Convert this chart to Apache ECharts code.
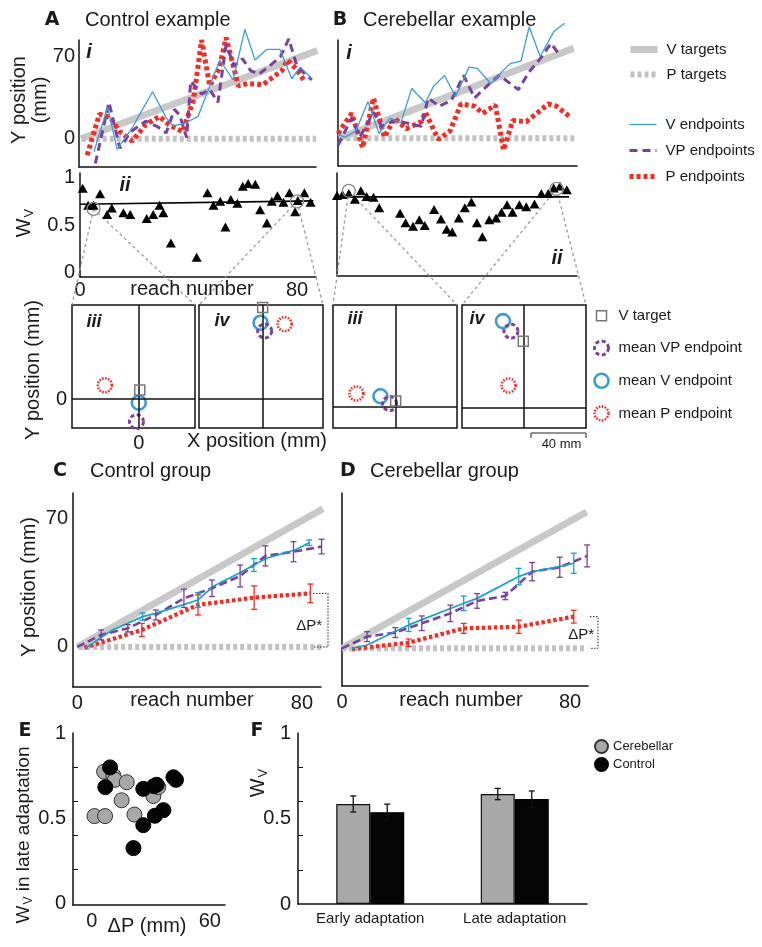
<!DOCTYPE html>
<html><head><meta charset="utf-8">
<script src="https://cdn.jsdelivr.net/npm/echarts@6/dist/echarts.min.js"></script>
<style>html,body{margin:0;padding:0;background:#fff}#c{width:762px;height:947px}</style>
</head><body><div id="c"></div>
<script>
// ---------------- DATA ----------------
// Panel A i (control example): reach number vs Y position (mm)
const aTgtReach = [0.7, 87.5], aTgtVal = [0, 75];
const aPTReach = [1, 87], aPTVal = [0, 0];
const aVReach = [5.5,10.5,14,19.7,27,32,34.4,38.7,43.7,51.7,56.6,60.9,64.6,68.9,73.8,78.1,81.2,85.5];
const aVVal   = [-11,27,-9,10,40,18,11,13,19,67,50,93,67,76,76,51,61,51];
const aVPReach = [6,11,15,19,24.5,29,32,35,37,39.5,41,45,48,51,54,57,60,63,66,70,74,77,80,83,85.5];
const aVPVal   = [-21,31,-8,6,15,10,5,25,20,1,49,38,42,31,80,62,68,58,55,62,70,85,62,55,50];
const aPReach = [3,7.5,11.5,15,19.5,24.5,29.5,33,38,42,45,48,51.5,54,58.5,62,67.5,71,74.5,76.5,79.5,82.5];
const aPVal   = [-14,21,18,6,-2,12,19,12,6,33,84,45,60,86,45,47,46,52,58,67,60,50];
// Panel B i (cerebellar example)
const bTgtReach = [0.4, 86.3], bTgtVal = [0, 76];
const bPTReach = [0.5, 87], bPTVal = [0, 0];
const bVReach = [0,2.5,6.5,11,15,19,23,27,32,35,39,43,48,51,56,60,63,67,70,74,79,83];
const bVVal   = [3,1,6,31,4,17,13,42,30,44,53,35,60,59,46,56,63,65,94,69,90,97];
const bVPReach = [0,5,8,13,16,21,25,30.5,33,37,41.5,46,50,55,59,62,66,70,74,78,81.5];
const bVPVal   = [-6,17,1,22,10,15,13,10,34,27,32,53,34,45,53,48,41,56,67,80,69];
const bPReach = [0,5,9,13,17,20.7,25,30.5,32,36.7,41,45,50,53,57.6,60.6,64,69,77,80,85];
const bPVal   = [4,21,-8,34,1,17,8,14,22,-1,6,29,27,21,28,-10,15,14,29,27,18];
// Panel A ii / B ii : W_V per reach
const aWReach = [1,3,5,7.4,10,11.7,16,18.5,24.6,27,29.3,30.7,33.5,43,47,49.2,51.7,53.6,55.6,58,60,62,64.6,66.4,68.9,70.7,72.8,75,77.2,79.3,80.3,82.7,85];
const aWVal   = [0.89,0.71,0.71,0.83,0.61,0.68,0.63,0.61,0.57,0.61,0.71,0.63,0.31,0.16,0.84,0.71,0.75,0.48,0.77,0.73,0.91,0.94,0.93,0.66,0.52,0.75,0.81,0.74,0.84,0.64,0.76,0.84,0.74];
const aFitReach = [0, 86], aFitVal = [0.72, 0.755];
const aCircReach = [5, 80], aCircVal = [0.67, 0.75];
const bWReach = [0,2,4.3,6.5,8.7,10.8,13.3,15.4,23,25,27.7,30,32,35.4,37.9,40,42,44.4,46.6,49,51,53,55.5,58,60,62,64,66.5,69,72,74.5,77,79,81.3,83.8];
const bWVal   = [0.81,0.82,0.83,0.77,0.86,0.80,0.79,0.68,0.62,0.52,0.48,0.55,0.49,0.66,0.56,0.45,0.42,0.57,0.68,0.74,0.52,0.37,0.55,0.57,0.63,0.71,0.63,0.71,0.69,0.72,0.83,0.83,0.89,0.91,0.87];
const bFitReach = [-0.5, 84.6], bFitVal = [0.795, 0.795];
const bCircReach = [4.3, 80], bCircVal = [0.86, 0.88];
// Panels iii / iv (A iii, A iv, B iii, B iv): X / Y position (mm)
const mTargetX = [0.7, 0, 0, 0],      mTargetY = [6.5, 66, 4.6, 48.7];
const mVX      = [0, -1.5, -11.1, -14.8], mVY = [-2.7, 55, 8, 63.3];
const mVPX     = [-1.7, 1.5, -4.4, -9.0], mVPY = [-16.5, 49, 2.7, 56];
const mPX      = [-24.7, 16, -28.6, -10.7], mPY = [10, 54, 10, 16.5];
// Panel C (control group)
const cTgtReach = [0, 87.5], cTgtVal = [0, 75.6];
const cPTReach = [0.7, 88.2], cPTVal = [0, 0];
const cVPReach = [0,8.5,18,28,38,48,58,67,77,87];
const cVPVal   = [0,6.6,10.2,17.5,26.6,32.1,38.8,49.8,52.1,54.9];
const cVPErr   = [0,2.7,2,2.7,5,4.5,6,5.5,5.5,4];
const cVReach = [3,8,12.6,23.3,27.9,37.6,43,48.3,57.6,62.9,67.4,77.5,82.6];
const cVVal   = [-0.7,4.7,9.3,16.6,18.4,23,25.7,33,40.3,44.8,48.5,53,57];
const cVErr   = [0,0,0,2,0,0,4,0,0,3.5,0,0,1.5];
const cPReach = [2.5,23,43,63,83];
const cPVal   = [-0.5,9.3,23,27,29.3];
const cPErr   = [0,3.6,5.5,6.4,5.1];
// Panel D (cerebellar group)
const dTgtReach = [0, 85.8], dTgtVal = [0, 74.5];
const dPTReach = [0, 86], dPTVal = [0, 0];
const dVPReach = [0,8.8,18.7,28,38,47.4,57.3,66.7,76.4,86];
const dVPVal   = [0,6.4,8.6,13.7,19.1,25.9,28.6,41.9,44.3,50.5];
const dVPErr   = [0,2.7,2.7,4,4.5,4,2,5,5.5,6];
const dVReach = [3.5,8.8,23.4,42.7,47.4,62,66.7,76.4,81.3];
const dVVal   = [0,1.8,12.8,24.6,27.3,39.2,41.9,44.7,46.5];
const dVErr   = [0,0,3.6,4,0,4.5,0,0,5.5];
const dPReach = [3.5,23.4,42.7,62,81.3];
const dPVal   = [-0.4,3.1,10.9,11.8,17.3];
const dPErr   = [0,2,2.7,3.6,3.5];
// Panel E: ΔP (mm) vs W_V in late adaptation
const eCerDP = [6.3,11,11.8,17.8,15.2,1.4,6.8,21.7,31.3,33.8];
const eCerWv = [0.773,0.75,0.725,0.711,0.605,0.512,0.512,0.521,0.63,0.682];
const eConDP = [9.3,6.9,26.2,31.6,33,41.5,42.8,36.4,32.1,26.2,21.2];
const eConWv = [0.798,0.682,0.672,0.688,0.696,0.74,0.725,0.547,0.514,0.459,0.324];
// Panel F: mean W_V
const fCats = ['Early adaptation', 'Late adaptation'];
const fCer = [0.585, 0.643], fCerErr = [0.047, 0.033];
const fCon = [0.537, 0.614], fConErr = [0.047, 0.047];

// ---------------- STYLE / LAYOUT ----------------
const F = "'Liberation Sans', Arial, Helvetica, sans-serif";
const HEAVY = "'DejaVu Sans', 'Liberation Sans', sans-serif";
const TXT = '#1a1a1a';
const COL = { vt:'#c8c8c8', pt:'#c2c2c2', v:'#3d9bd8', vC:'#17a2ca', vp:'#7b3f9e', p:'#ee2f25', gray:'#a8a8a8' };
const G = [
  {left:79,  top:40,  width:237, height:127}, // 0 A i
  {left:338, top:40,  width:239, height:126}, // 1 B i
  {left:80,  top:173, width:236, height:104}, // 2 A ii
  {left:337, top:173, width:240, height:103}, // 3 B ii
  {left:72,  top:305, width:123, height:123}, // 4 A iii
  {left:199, top:305, width:124, height:123}, // 5 A iv
  {left:333, top:305, width:124, height:123}, // 6 B iii
  {left:462, top:305, width:124, height:123}, // 7 B iv
  {left:73,  top:493, width:248, height:194}, // 8 C
  {left:342, top:493, width:246, height:193}, // 9 D
  {left:73,  top:733, width:152, height:172}, // 10 E
  {left:298, top:733, width:289, height:171}  // 11 F
];
const boxX = [[-48.6,40.9],[-46.3,43.9],[-45.6,44.6],[-44.6,45.6]];
const boxY = [[-21.1,68.4],[-21.6,67.9],[-15.1,74.4],[-14.4,75]];

function pairs(xs, ys){ return xs.map((x,i)=>[x, ys[i]]); }
function triples(xs, ys, es){ return xs.map((x,i)=>[x, ys[i], es[i]]); }

function lab(values, margin, fs){
  return {show:true, customValues:values, fontSize:fs||20, color:TXT, fontFamily:F, margin:margin};
}
function vAxis(gi, min, max, pos, o){
  o = o || {};
  return {type:'value', gridIndex:gi, min:min, max:max, position:pos,
    axisLine:{show:o.line!==false, onZero:false, lineStyle:{color:'#111', width:1.5}},
    axisTick: o.ticks ? {show:true, inside:true, length:5, customValues:o.ticks, lineStyle:{color:'#111', width:1}} : {show:false},
    splitLine:{show:false},
    axisLabel: o.labels ? lab(o.labels, o.margin==null?4:o.margin, o.fs) : {show:false}};
}

const grids = G.map((g,i)=>Object.assign({outerBoundsMode:'none', containLabel:false}, g,
  (i>=4 && i<=7) ? {show:true, borderColor:'#111', borderWidth:1.5, backgroundColor:'rgba(0,0,0,0)'} : {show:false}));

const xAxes = [
  vAxis(0, 0, 87, 'bottom'),
  vAxis(1, 0, 87.5, 'bottom'),
  vAxis(2, 0, 87, 'bottom', {labels:[0,80], margin:3}),
  vAxis(3, 0, 87.5, 'bottom'),
  vAxis(4, boxX[0][0], boxX[0][1], 'bottom', {line:false, labels:[0], margin:5}),
  vAxis(5, boxX[1][0], boxX[1][1], 'bottom', {line:false}),
  vAxis(6, boxX[2][0], boxX[2][1], 'bottom', {line:false}),
  vAxis(7, boxX[3][0], boxX[3][1], 'bottom', {line:false}),
  vAxis(8, -1.5, 86.8, 'bottom', {labels:[0,80], margin:6}),
  vAxis(9, 0, 86.3, 'bottom', {labels:[0,80], margin:6}),
  vAxis(10, -9.5, 67.7, 'bottom', {labels:[0,60], margin:6}),
  {type:'category', gridIndex:11, data:fCats, position:'bottom',
   axisLine:{show:true, onZero:false, lineStyle:{color:'#111', width:1.5}}, axisTick:{show:false},
   axisLabel:{show:true, fontSize:15, color:TXT, fontFamily:F, margin:7}, splitLine:{show:false}}
];
const yAxes = [
  vAxis(0, -24, 84, 'left', {labels:[0,70], margin:4}),
  vAxis(1, -23.4, 82.9, 'left'),
  vAxis(2, -0.05, 1.05, 'left', {labels:[0,0.5,1], margin:5}),
  vAxis(3, -0.05, 1.05, 'left'),
  vAxis(4, boxY[0][0], boxY[0][1], 'left', {line:false, labels:[0], margin:5}),
  vAxis(5, boxY[1][0], boxY[1][1], 'left', {line:false}),
  vAxis(6, boxY[2][0], boxY[2][1], 'left', {line:false}),
  vAxis(7, boxY[3][0], boxY[3][1], 'left', {line:false}),
  vAxis(8, -21.9, 84.2, 'left', {labels:[0,70], margin:5}),
  vAxis(9, -20.6, 84.9, 'left'),
  vAxis(10, -0.01, 1.0, 'left', {labels:[0,0.5,1], margin:7, ticks:[0.2,0.4,0.6,0.8]}),
  vAxis(11, 0, 1, 'left', {labels:[0,0.5,1], margin:7, ticks:[0.2,0.4,0.6,0.8]})
];

function lineS(name, gi, data, style, z){
  return {type:'line', name:name, xAxisIndex:gi, yAxisIndex:gi, data:data, symbol:'none', showSymbol:false,
    clip:false, silent:true, z:z||2, lineStyle:style, itemStyle:{color:style.color}, animation:false};
}
function errS(gi, data, color, offset){
  return {type:'custom', xAxisIndex:gi, yAxisIndex:gi, data:data, silent:true, z:6, clip:false, animation:false,
    encode:{x:0, y:1},
    renderItem:function(params, api){
      const e = api.value(2); if (!e) return null;
      const x = api.value(0), y = api.value(1);
      const t = api.coord([x, y+e]), b = api.coord([x, y-e]);
      const cx = t[0] + (offset||0), w = 3;
      const st = {stroke:color, lineWidth:1.3, fill:null};
      return {type:'group', children:[
        {type:'line', shape:{x1:cx, y1:t[1], x2:cx, y2:b[1]}, style:st},
        {type:'line', shape:{x1:cx-w, y1:t[1], x2:cx+w, y2:t[1]}, style:st},
        {type:'line', shape:{x1:cx-w, y1:b[1], x2:cx+w, y2:b[1]}, style:st}]};
    }};
}
const sVT = {color:COL.vt, width:7, cap:'butt'};
const sPT = {color:COL.pt, width:6, type:[4,3]};
const sV  = {color:COL.v, width:1.3};
const sVC = {color:COL.vC, width:1.7};
const sVP = {color:COL.vp, width:3, type:[8,5]};
const sVP2= {color:COL.vp, width:2.6, type:[8,4]};
const sP  = {color:COL.p, width:5, type:[4,3]};
const sP2 = {color:COL.p, width:4.2, type:[3.5,2.5]};

// marker styles for iii / iv
const mkV  = {color:'rgba(255,255,255,0)', borderColor:COL.v, borderWidth:2.6, opacity:1};
const mkVP = {color:'rgba(255,255,255,0)', borderColor:COL.vp, borderWidth:3, borderType:[4,2.6], opacity:1};
const mkT  = {color:'rgba(255,255,255,0)', borderColor:'#777', borderWidth:1.5, opacity:1};
const mkP  = {color:'rgba(255,255,255,0)', borderColor:COL.p, borderWidth:2.6, borderType:[1.6,1.4], opacity:1};

const series = [];
// A i
series.push(lineS('V targets', 0, pairs(aTgtReach, aTgtVal), sVT, 1));
series.push(lineS('P targets', 0, pairs(aPTReach, aPTVal), sPT, 1));
series.push(lineS('V endpoints', 0, pairs(aVReach, aVVal), sV, 4));
series.push(lineS('VP endpoints', 0, pairs(aVPReach, aVPVal), sVP, 3));
series.push(lineS('P endpoints', 0, pairs(aPReach, aPVal), sP, 2));
// B i
series.push(lineS('V targets', 1, pairs(bTgtReach, bTgtVal), sVT, 1));
series.push(lineS('P targets', 1, pairs(bPTReach, bPTVal), sPT, 1));
series.push(lineS('V endpoints', 1, pairs(bVReach, bVVal), sV, 4));
series.push(lineS('VP endpoints', 1, pairs(bVPReach, bVPVal), sVP, 3));
series.push(lineS('P endpoints', 1, pairs(bPReach, bPVal), sP, 2));
// ii panels
[[2, aWReach, aWVal, aFitReach, aFitVal, aCircReach, aCircVal],
 [3, bWReach, bWVal, bFitReach, bFitVal, bCircReach, bCircVal]].forEach(function(p){
  series.push(lineS('', p[0], pairs(p[3], p[4]), {color:'#000', width:1.6}, 3));
  series.push({type:'scatter', xAxisIndex:p[0], yAxisIndex:p[0], data:pairs(p[1], p[2]), symbol:'triangle',
    symbolSize:[10,9], itemStyle:{color:'#000', opacity:1}, silent:true, clip:false, z:4, animation:false});
  series.push({type:'scatter', xAxisIndex:p[0], yAxisIndex:p[0], data:pairs(p[5], p[6]), symbol:'circle',
    symbolSize:13, itemStyle:{color:'rgba(0,0,0,0)', borderColor:'#8a8a8a', borderWidth:1.3, opacity:1}, silent:true, clip:false, z:5, animation:false});
});
// iii / iv panels
for (let k=0; k<4; k++){
  const gi = 4+k;
  series.push({type:'scatter', name:'mean V endpoint', xAxisIndex:gi, yAxisIndex:gi, data:[[mVX[k], mVY[k]]],
    symbol:'circle', symbolSize:14, silent:true, animation:false, z:3, itemStyle:mkV,
    markLine:{silent:true, symbol:['none','none'], label:{show:false}, animation:false,
      lineStyle:{color:'#111', width:1.5, type:'solid'}, emphasis:{disabled:true},
      data:[{xAxis:0},{yAxis:0}]}});
  series.push({type:'scatter', name:'mean VP endpoint', xAxisIndex:gi, yAxisIndex:gi, data:[[mVPX[k], mVPY[k]]],
    symbol:'circle', symbolSize:14, silent:true, animation:false, z:4, itemStyle:mkVP});
  series.push({type:'scatter', name:'V target', xAxisIndex:gi, yAxisIndex:gi, data:[[mTargetX[k], mTargetY[k]]],
    symbol:'rect', symbolSize:10, silent:true, animation:false, z:5, itemStyle:mkT});
  series.push({type:'scatter', name:'mean P endpoint', xAxisIndex:gi, yAxisIndex:gi, data:[[mPX[k], mPY[k]]],
    symbol:'circle', symbolSize:14, silent:true, animation:false, z:4, itemStyle:mkP});
}
// C and D
[[8, cTgtReach, cTgtVal, cPTReach, cPTVal, cPReach, cPVal, cPErr, cVPReach, cVPVal, cVPErr, cVReach, cVVal, cVErr],
 [9, dTgtReach, dTgtVal, dPTReach, dPTVal, dPReach, dPVal, dPErr, dVPReach, dVPVal, dVPErr, dVReach, dVVal, dVErr]].forEach(function(p){
  const gi = p[0];
  series.push(lineS('V targets', gi, pairs(p[1], p[2]), sVT, 1));
  series.push(lineS('P targets', gi, pairs(p[3], p[4]), sPT, 1));
  series.push(lineS('P endpoints', gi, pairs(p[5], p[6]), sP2, 2));
  series.push(lineS('VP endpoints', gi, pairs(p[8], p[9]), sVP2, 3));
  series.push(lineS('V endpoints', gi, pairs(p[11], p[12]), sVC, 4));
  series.push(errS(gi, triples(p[5], p[6], p[7]), COL.p, 0));
  series.push(errS(gi, triples(p[8], p[9], p[10]), COL.vp, 0));
  series.push(errS(gi, triples(p[11], p[12], p[13]), COL.vC, 0));
});
// E
series.push({type:'scatter', name:'Cerebellar', xAxisIndex:10, yAxisIndex:10, data:pairs(eCerDP, eCerWv),
  symbol:'circle', symbolSize:15, silent:true, animation:false, itemStyle:{color:COL.gray, borderColor:'#333', borderWidth:1, opacity:1}});
series.push({type:'scatter', name:'Control', xAxisIndex:10, yAxisIndex:10, data:pairs(eConDP, eConWv),
  symbol:'circle', symbolSize:15, silent:true, animation:false, itemStyle:{color:'#050505', borderColor:'#000', borderWidth:1, opacity:1}});
// F
series.push({type:'bar', name:'Cerebellar', xAxisIndex:11, yAxisIndex:11, data:fCer, barWidth:34, barGap:'0%',
  silent:true, animation:false, itemStyle:{color:COL.gray, borderColor:'#111', borderWidth:1.2}});
series.push({type:'bar', name:'Control', xAxisIndex:11, yAxisIndex:11, data:fCon, barWidth:34, barGap:'0%',
  silent:true, animation:false, itemStyle:{color:'#050505', borderColor:'#000', borderWidth:1.2}});
series.push(errS(11, fCer.map((v,i)=>[i, v, fCerErr[i]]), '#111', -17));
series.push(errS(11, fCon.map((v,i)=>[i, v, fConErr[i]]), '#111', 17));

const legTxt = function(fs, padL){ return {fontSize:fs, fontFamily:F, color:TXT, padding:[0,0,0,padL]}; };
const noSym = {color:'rgba(0,0,0,0)', borderWidth:0, opacity:0};
function legLine(name, st){
  return {name:name, itemStyle:noSym, lineStyle:{color:st.color, width:st.width, type:st.type||'solid', opacity:1}};
}
const legend = [
  {data:[legLine('V targets', sVT), legLine('P targets', sPT)], left:627, top:42, orient:'vertical',
   itemWidth:27, itemHeight:14, itemGap:10, padding:0, selectedMode:false, textStyle:legTxt(15,4)},
  {data:[legLine('V endpoints', sV), legLine('VP endpoints', sVP), legLine('P endpoints', sP)], left:627, top:117,
   orient:'vertical', itemWidth:27, itemHeight:14, itemGap:11, padding:0, selectedMode:false, textStyle:legTxt(15,4)},
  {data:[{name:'V target', icon:'path://M0,0 M14,14 M2,2 L12,2 L12,12 L2,12 Z', itemStyle:mkT},
         {name:'mean VP endpoint', itemStyle:mkVP},
         {name:'mean V endpoint', itemStyle:mkV},
         {name:'mean P endpoint', itemStyle:mkP}], left:593, top:308, orient:'vertical',
   itemWidth:14, itemHeight:14, itemGap:16, padding:0, selectedMode:false, textStyle:legTxt(15,5)},
  {data:['Cerebellar','Control'], left:594, top:739, orient:'vertical', itemWidth:13, itemHeight:13, itemGap:3,
   icon:'circle', padding:0, selectedMode:false, textStyle:legTxt(13,0)}
];

const chart = echarts.init(document.getElementById('c'), null, {renderer:'canvas', width:762, height:947});
chart.setOption({animation:false, backgroundColor:'#fff', textStyle:{fontFamily:F},
  grid:grids, xAxis:xAxes, yAxis:yAxes, series:series, legend:legend});

// ---------------- TEXT + DECORATION ----------------
function T(text, x, y, o){
  o = o || {};
  return {type:'text', x:x, y:y, rotation:o.rot||0, silent:true, z:50,
    style:{text:text, fill:TXT, fontSize:o.fs||20, fontFamily:o.ff||F, fontWeight:o.fw||'normal',
      fontStyle:o.it?'italic':'normal', align:o.align||'center', verticalAlign:'middle',
      lineHeight:o.lh, rich:o.rich}};
}
const R = Math.PI/2;
const heavy = {fw:'bold', ff:HEAVY, fs:19};
const bi = {fw:'bold', it:true, fs:20};
const bi2 = {fw:'bold', it:true, fs:18};
const wvRich = {w:{fontSize:20, fontFamily:F, fill:TXT}, v:{fontSize:13, fontFamily:F, fill:TXT, padding:[10,0,0,1]}};
const wvRich19 = {w:{fontSize:19, fontFamily:F, fill:TXT}, v:{fontSize:12, fontFamily:F, fill:TXT, padding:[10,0,0,1]}};

const els = [
  T('A', 52, 20, heavy), T('Control example', 85, 20, {align:'left'}),
  T('B', 340, 20, heavy), T('Cerebellar example', 363, 20, {align:'left'}),
  T('i', 89, 52, bi), T('i', 349, 53, bi),
  T('Y position\n(mm)', 30, 100, {rot:R, lh:21}),
  T('{w|W}{v|V}', 24, 223, {rot:R, rich:wvRich}),
  T('ii', 125, 185, bi), T('ii', 557, 258, bi),
  T('reach number', 192, 289),
  T('iii', 94, 322, bi2), T('iv', 222, 321, bi2), T('iii', 355, 319, bi2), T('iv', 477, 319, bi2),
  T('Y position (mm)', 33, 370, {rot:R}),
  T('X position (mm)', 257, 441),
  T('C', 60, 471, heavy), T('Control group', 90, 471, {align:'left'}),
  T('D', 348, 471, heavy), T('Cerebellar group', 370, 471, {align:'left'}),
  T('Y position (mm)', 29, 587, {rot:R}),
  T('reach number', 192, 700), T('reach number', 461, 700),
  T('ΔP*', 322, 626, {align:'right', fs:15}), T('ΔP*', 594, 635, {align:'right', fs:15}),
  T('E', 25, 731, heavy), T('F', 257, 731, heavy),
  T('{w|W}{v|V}{w| in late adaptation}', 24, 835, {rot:R, rich:wvRich19}),
  T('ΔP (mm)', 147, 926),
  T('{w|W}{v|V}', 258, 783, {rot:R, rich:wvRich})
];

const dash = {stroke:'#9a9a9a', lineWidth:1.3, lineDash:[3,3], fill:null};
function L(p, q, st, z){ return {type:'line', silent:true, z:z||1, shape:{x1:p[0], y1:p[1], x2:q[0], y2:q[1]}, style:st}; }
function topCorners(gi){ const g = G[gi]; return [[g.left, g.top], [g.left+g.width, g.top]]; }
[[2, aCircReach, aCircVal, 4, 5], [3, bCircReach, bCircVal, 6, 7]].forEach(function(p){
  for (let j=0; j<2; j++){
    const c = chart.convertToPixel({gridIndex:p[0]}, [p[1][j], p[2][j]]);
    const tc = topCorners(p[3+j]);
    els.push(L(c, tc[0], dash)); els.push(L(c, tc[1], dash));
  }
});
// 40 mm scale bar (B iv scale)
const sx2 = chart.convertToPixel({gridIndex:7}, [boxX[3][1], 0])[0];
const sx1 = chart.convertToPixel({gridIndex:7}, [boxX[3][1]-40, 0])[0];
els.push({type:'polyline', silent:true, z:5, shape:{points:[[sx1,438],[sx1,433],[sx2,433],[sx2,438]]},
  style:{stroke:'#222', lineWidth:1, fill:null}});
els.push(T('40 mm', (sx1+sx2)/2 + 3, 444, {fs:13}));
// ΔP* brackets
const dotted = {stroke:'#222', lineWidth:1, lineDash:[1.5,1.5], fill:null};
[[8, cPVal, 313, 328], [9, dPVal, 590, 598]].forEach(function(p){
  const yT = chart.convertToPixel({gridIndex:p[0]}, [0, p[1][p[1].length-1]])[1];
  const yB = chart.convertToPixel({gridIndex:p[0]}, [0, 0])[1];
  els.push({type:'polyline', silent:true, z:5, shape:{points:[[p[2],yT],[p[3],yT],[p[3],yB],[p[2],yB]]}, style:dotted});
});
chart.setOption({graphic:{elements:els}});
</script></body></html>
